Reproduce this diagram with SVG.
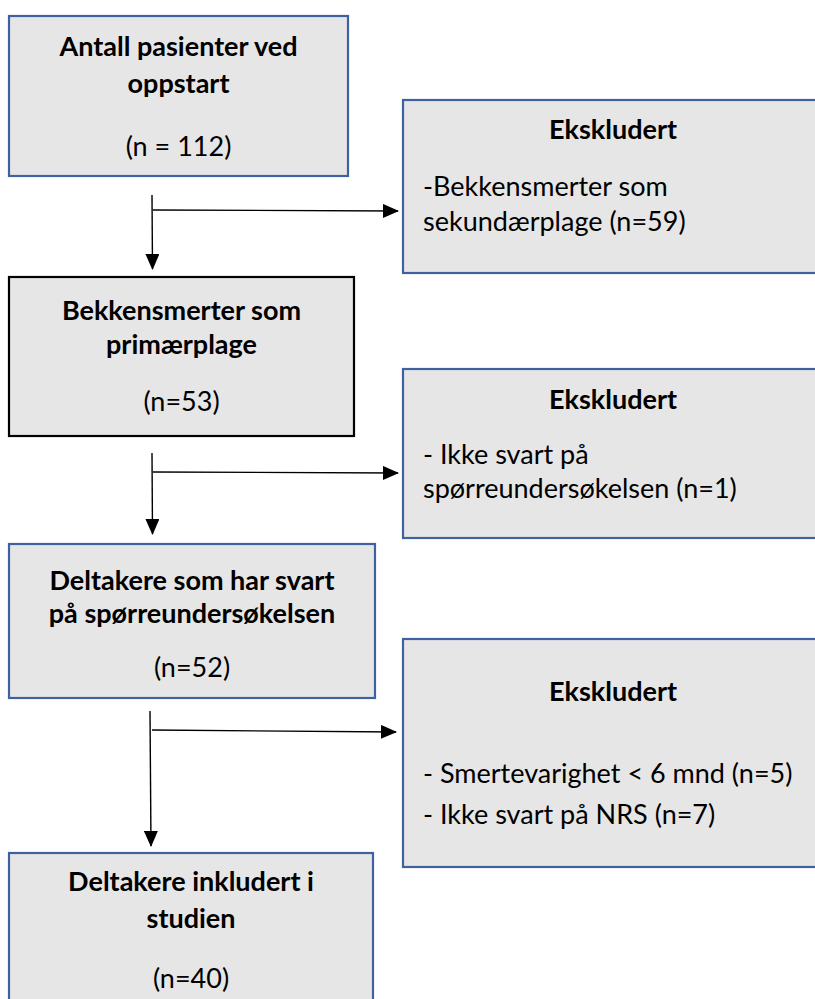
<svg xmlns="http://www.w3.org/2000/svg" width="815" height="999" viewBox="0 0 815 999">
<style>
.box{fill:#e7e6e6;stroke:#3e62a0;stroke-width:2.2}
.boxk{fill:#e7e6e6;stroke:#000;stroke-width:2.2}
text{font-family:Lato,"Liberation Sans",sans-serif;font-size:27px;fill:#000}
.b{font-weight:bold}
.c{text-anchor:middle}
.ln{stroke:#000;stroke-width:1.4;fill:none}
</style>
<defs>
<marker id="ah" markerWidth="16" markerHeight="14" refX="15" refY="7" orient="auto" markerUnits="userSpaceOnUse">
<path d="M0,0 L16,7 L0,14 Z" fill="#000"/>
</marker>
</defs>
<rect width="815" height="999" fill="#fff"/>
<g id="n1">
<rect class="box" x="9" y="16" width="339" height="160"/>
<text class="b c" x="178.5" y="56">Antall pasienter ved</text>
<text class="b c" x="178.5" y="93">oppstart</text>
<text class="c" x="178.5" y="156">(n = 112)</text>
</g>
<g id="e1">
<rect class="box" x="403" y="100" width="430" height="173"/>
<text class="b c" x="613" y="139">Ekskludert</text>
<text x="423" y="196">-Bekkensmerter som</text>
<text x="423" y="231">sekundærplage (n=59)</text>
</g>
<g id="n2">
<rect class="boxk" x="9" y="277" width="345" height="159"/>
<text class="b c" x="181.5" y="320">Bekkensmerter som</text>
<text class="b c" x="181.5" y="354">primærplage</text>
<text class="c" x="181.5" y="411">(n=53)</text>
</g>
<g id="e2">
<rect class="box" x="403" y="369" width="430" height="169"/>
<text class="b c" x="613" y="409">Ekskludert</text>
<text x="423" y="464">- Ikke svart på</text>
<text x="423" y="498">spørreundersøkelsen (n=1)</text>
</g>
<g id="n3">
<rect class="box" x="9" y="544" width="366" height="154"/>
<text class="b c" x="192" y="590">Deltakere som har svart</text>
<text class="b c" x="192" y="623">på spørreundersøkelsen</text>
<text class="c" x="192" y="677">(n=52)</text>
</g>
<g id="e3">
<rect class="box" x="403" y="639" width="430" height="228"/>
<text class="b c" x="613" y="701">Ekskludert</text>
<text x="423" y="783">- Smertevarighet &lt; 6 mnd (n=5)</text>
<text x="423" y="824">- Ikke svart på NRS (n=7)</text>
</g>
<g id="n4">
<rect class="box" x="9" y="853" width="364" height="160"/>
<text class="b c" x="191" y="891">Deltakere inkludert i</text>
<text class="b c" x="191" y="928">studien</text>
<text class="c" x="191" y="988">(n=40)</text>
</g>
<g id="connectors">
<line class="ln" x1="152" y1="195" x2="152.5" y2="269" marker-end="url(#ah)"/>
<line class="ln" x1="153" y1="210" x2="398" y2="211" marker-end="url(#ah)"/>
<line class="ln" x1="152" y1="453" x2="152.5" y2="534" marker-end="url(#ah)"/>
<line class="ln" x1="153" y1="472" x2="398" y2="473" marker-end="url(#ah)"/>
<line class="ln" x1="150" y1="711" x2="151" y2="846" marker-end="url(#ah)"/>
<line class="ln" x1="152" y1="730" x2="396" y2="732" marker-end="url(#ah)"/>
</g>
</svg>
